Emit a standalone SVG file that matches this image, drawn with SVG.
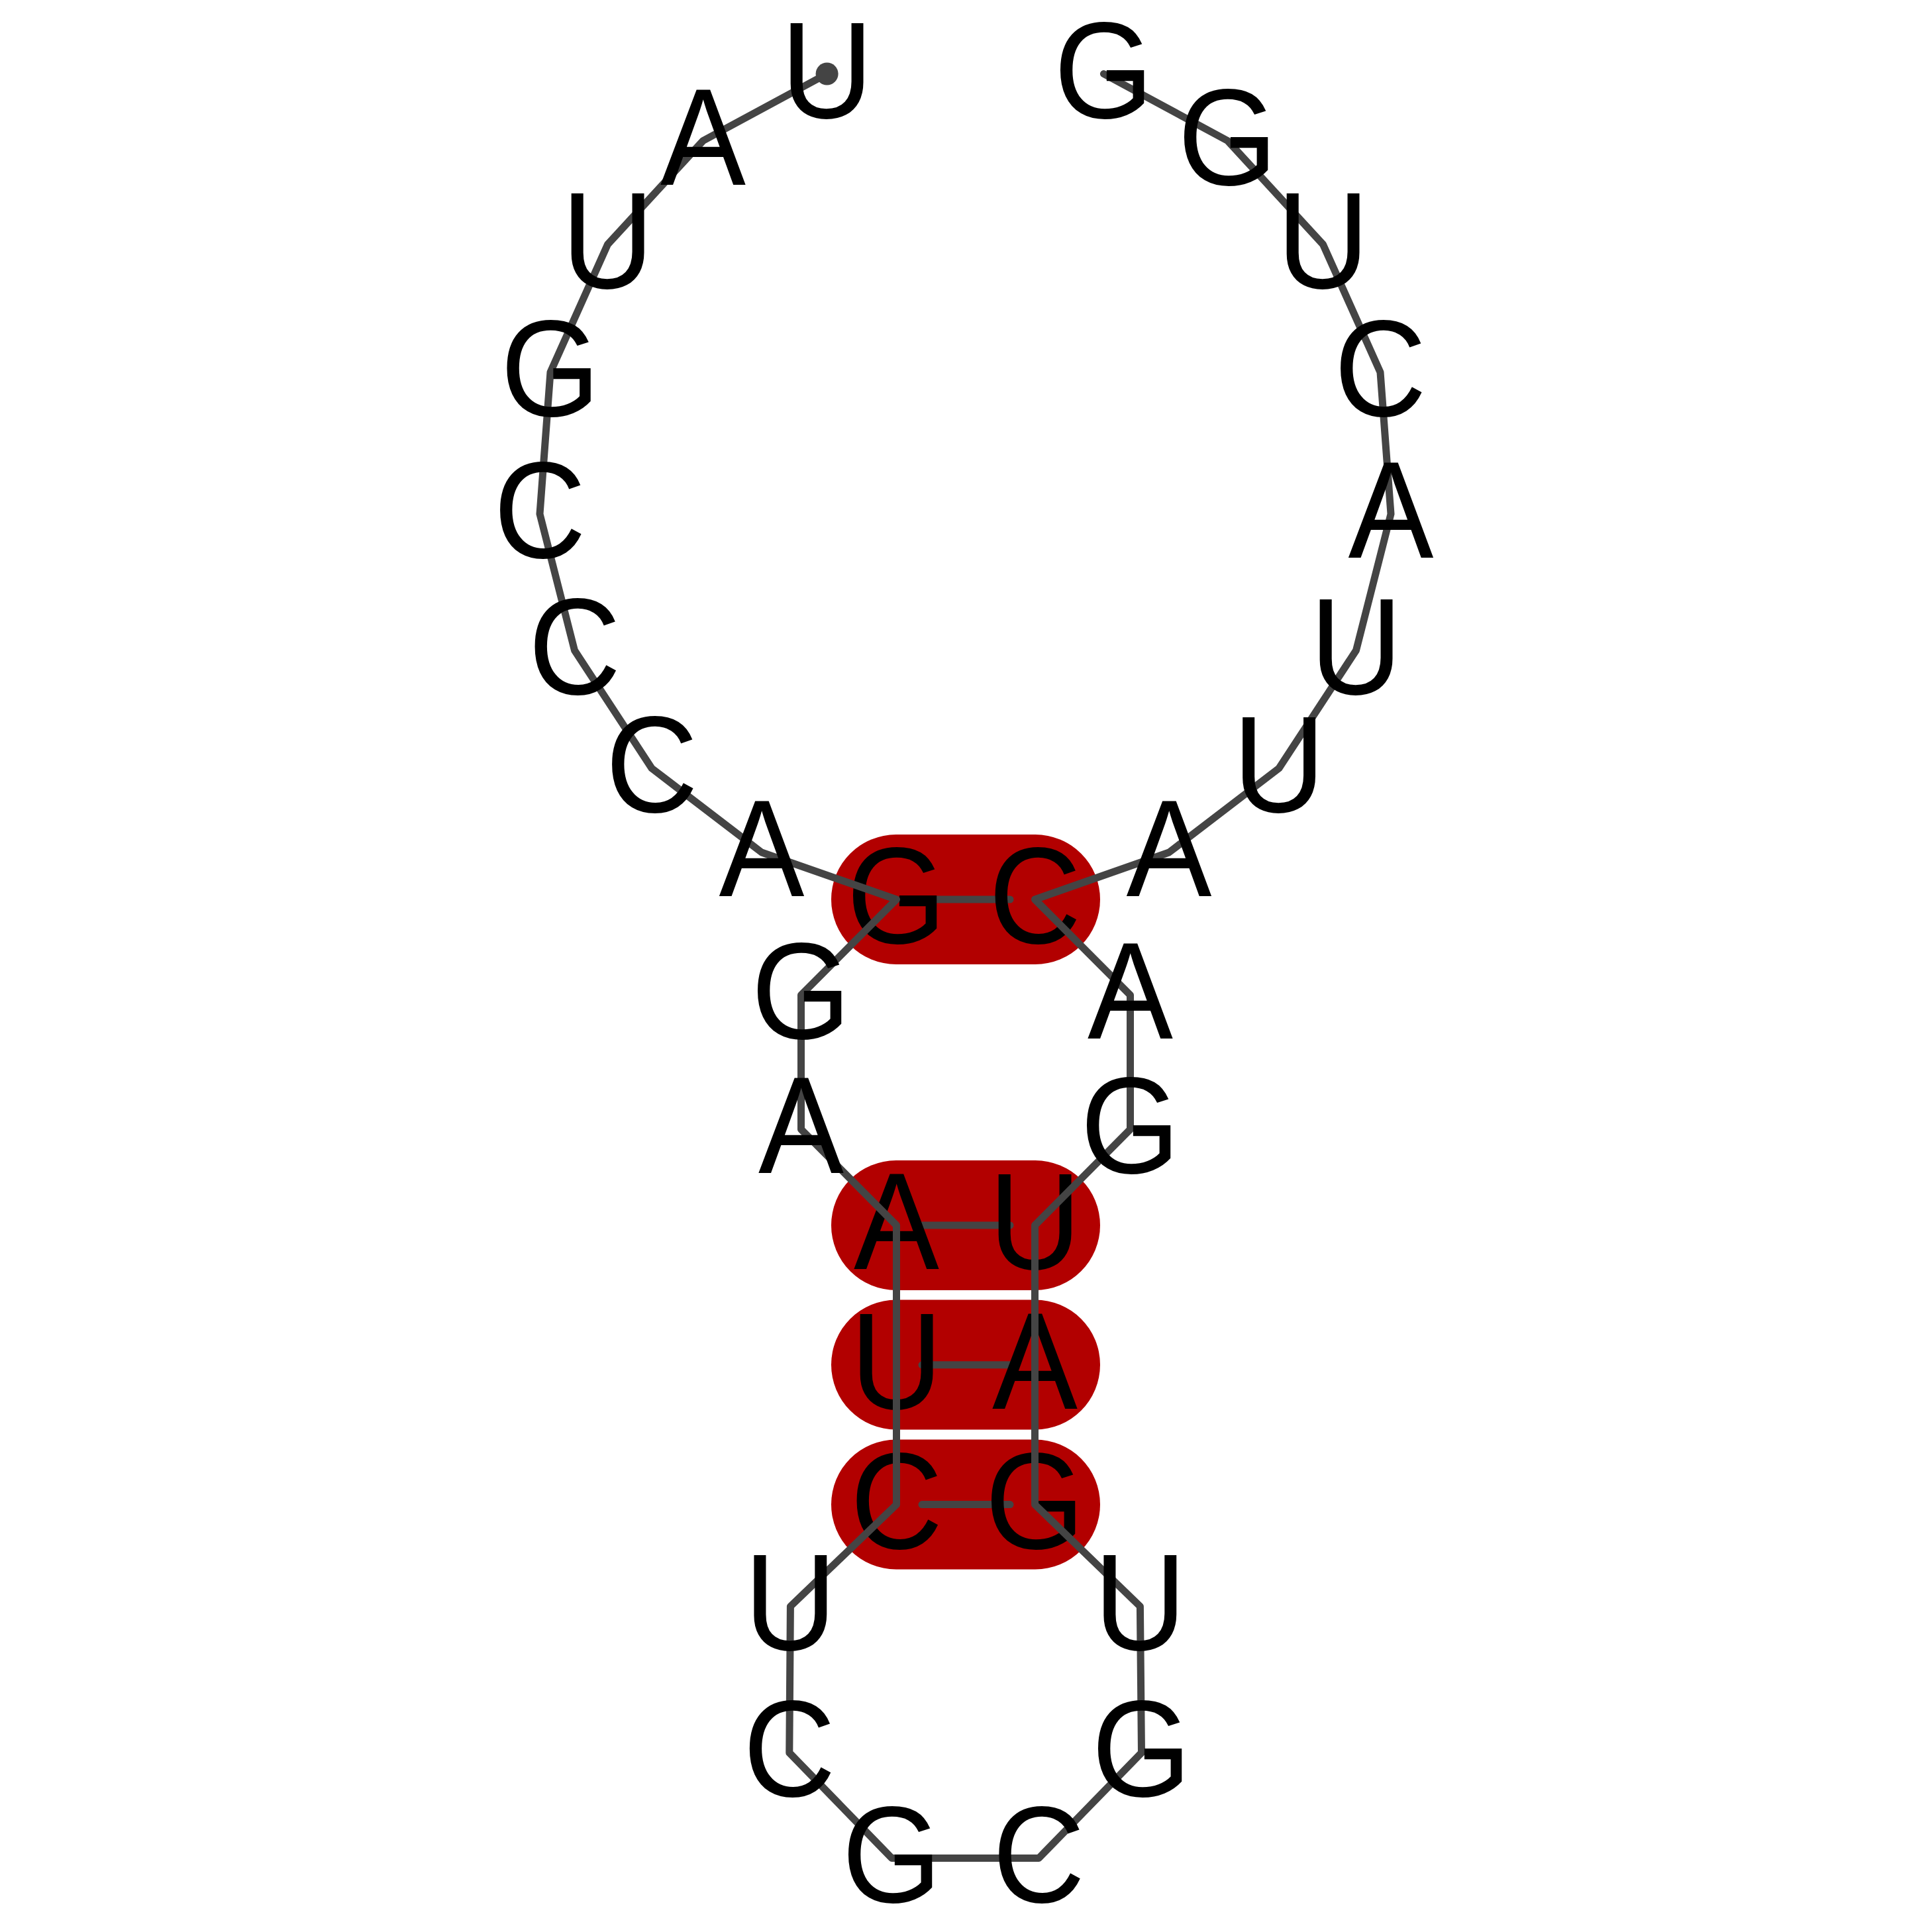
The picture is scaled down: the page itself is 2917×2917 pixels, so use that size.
<svg xmlns="http://www.w3.org/2000/svg" width="2917" height="2917" viewBox="0 0 2917 2917">
<style>
.bub{fill:#b20000}
.bb{fill:none;stroke:#444444;stroke-width:11;stroke-linejoin:round;stroke-linecap:round}
.pl{stroke:#444444;stroke-width:11;stroke-linecap:round}
.nt{font-family:"Liberation Sans",Arial,Helvetica,sans-serif;font-size:208px;fill:#000;text-anchor:middle}
</style>
<rect width="2917" height="2917" fill="#ffffff"/>
<g id="pair-bubbles">
<rect class="bub" x="1255" y="1260" width="406" height="196" rx="98" ry="98"/>
<rect class="bub" x="1255" y="1752" width="406" height="196" rx="98" ry="98"/>
<rect class="bub" x="1255" y="1962.5" width="406" height="196" rx="98" ry="98"/>
<rect class="bub" x="1255" y="2173.5" width="406" height="196" rx="98" ry="98"/>
</g>
<g id="pair-links">
<line class="pl" x1="1392" y1="1358" x2="1525" y2="1358"/>
<line class="pl" x1="1392" y1="1850" x2="1525" y2="1850"/>
<line class="pl" x1="1392" y1="2060.8" x2="1525" y2="2060.8"/>
<line class="pl" x1="1392" y1="2271.6" x2="1525" y2="2271.6"/>
</g>
<g id="paired-nucleotides">
<g id="n9"><text class="nt" transform="translate(1353.5,1424) scale(0.93,1)">G</text></g>
<g id="n12"><text class="nt" transform="translate(1353.5,1916) scale(0.93,1)">A</text></g>
<g id="n13"><text class="nt" transform="translate(1353.5,2126.8) scale(0.93,1)">U</text></g>
<g id="n14"><text class="nt" transform="translate(1353.5,2337.6) scale(0.93,1)">C</text></g>
<g id="n21"><text class="nt" transform="translate(1562.5,2337.6) scale(0.93,1)">G</text></g>
<g id="n22"><text class="nt" transform="translate(1562.5,2126.8) scale(0.93,1)">A</text></g>
<g id="n23"><text class="nt" transform="translate(1562.5,1916) scale(0.93,1)">U</text></g>
<g id="n26"><text class="nt" transform="translate(1562.5,1424) scale(0.93,1)">C</text></g>
</g>
<g id="backbone">
<polyline class="bb" points="1248.6,111.5 1061.5,212.5 917.5,369 831,562 815,776 867.5,982 984,1160 1150,1287 1353.5,1358 1209.5,1502.3 1209.5,1705.2 1353.5,1850 1353.5,2060.8 1353.5,2271.6 1193.4,2425.4 1191.8,2646.4 1346.4,2805.5 1568.4,2805.5 1723.5,2646.4 1721.4,2425.4 1562.5,2271.6 1562.5,2060.8 1562.5,1850 1706.5,1705.2 1706.5,1502.3 1562.5,1358 1765,1287 1931,1160 2047.5,982 2100,776 2084,562 1997.5,369 1853.5,212.5 1666.4,111.5"/>
<circle cx="1248.6" cy="111.5" r="17" fill="#444444"/>
</g>
<g id="unpaired-nucleotides">
<g id="n1"><text class="nt" transform="translate(1248.6,177.5) scale(0.93,1)">U</text></g>
<g id="n2"><text class="nt" transform="translate(1061.5,278.5) scale(0.93,1)">A</text></g>
<g id="n3"><text class="nt" transform="translate(917.5,435) scale(0.93,1)">U</text></g>
<g id="n4"><text class="nt" transform="translate(831,628) scale(0.93,1)">G</text></g>
<g id="n5"><text class="nt" transform="translate(815,842) scale(0.93,1)">C</text></g>
<g id="n6"><text class="nt" transform="translate(867.5,1048) scale(0.93,1)">C</text></g>
<g id="n7"><text class="nt" transform="translate(984,1226) scale(0.93,1)">C</text></g>
<g id="n8"><text class="nt" transform="translate(1150,1353) scale(0.93,1)">A</text></g>
<g id="n10"><text class="nt" transform="translate(1209.5,1568.3) scale(0.93,1)">G</text></g>
<g id="n11"><text class="nt" transform="translate(1209.5,1771.2) scale(0.93,1)">A</text></g>
<g id="n15"><text class="nt" transform="translate(1193.4,2491.4) scale(0.93,1)">U</text></g>
<g id="n16"><text class="nt" transform="translate(1191.8,2712.4) scale(0.93,1)">C</text></g>
<g id="n17"><text class="nt" transform="translate(1346.4,2872) scale(0.93,1)">G</text></g>
<g id="n18"><text class="nt" transform="translate(1568.4,2872) scale(0.93,1)">C</text></g>
<g id="n19"><text class="nt" transform="translate(1723.5,2712.4) scale(0.93,1)">G</text></g>
<g id="n20"><text class="nt" transform="translate(1721.4,2491.4) scale(0.93,1)">U</text></g>
<g id="n24"><text class="nt" transform="translate(1706.5,1771.2) scale(0.93,1)">G</text></g>
<g id="n25"><text class="nt" transform="translate(1706.5,1568.3) scale(0.93,1)">A</text></g>
<g id="n27"><text class="nt" transform="translate(1765,1353) scale(0.93,1)">A</text></g>
<g id="n28"><text class="nt" transform="translate(1931,1226) scale(0.93,1)">U</text></g>
<g id="n29"><text class="nt" transform="translate(2047.5,1048) scale(0.93,1)">U</text></g>
<g id="n30"><text class="nt" transform="translate(2100,842) scale(0.93,1)">A</text></g>
<g id="n31"><text class="nt" transform="translate(2084,628) scale(0.93,1)">C</text></g>
<g id="n32"><text class="nt" transform="translate(1997.5,435) scale(0.93,1)">U</text></g>
<g id="n33"><text class="nt" transform="translate(1853.5,278.5) scale(0.93,1)">G</text></g>
<g id="n34"><text class="nt" transform="translate(1666.4,177.5) scale(0.93,1)">G</text></g>
</g>
</svg>
